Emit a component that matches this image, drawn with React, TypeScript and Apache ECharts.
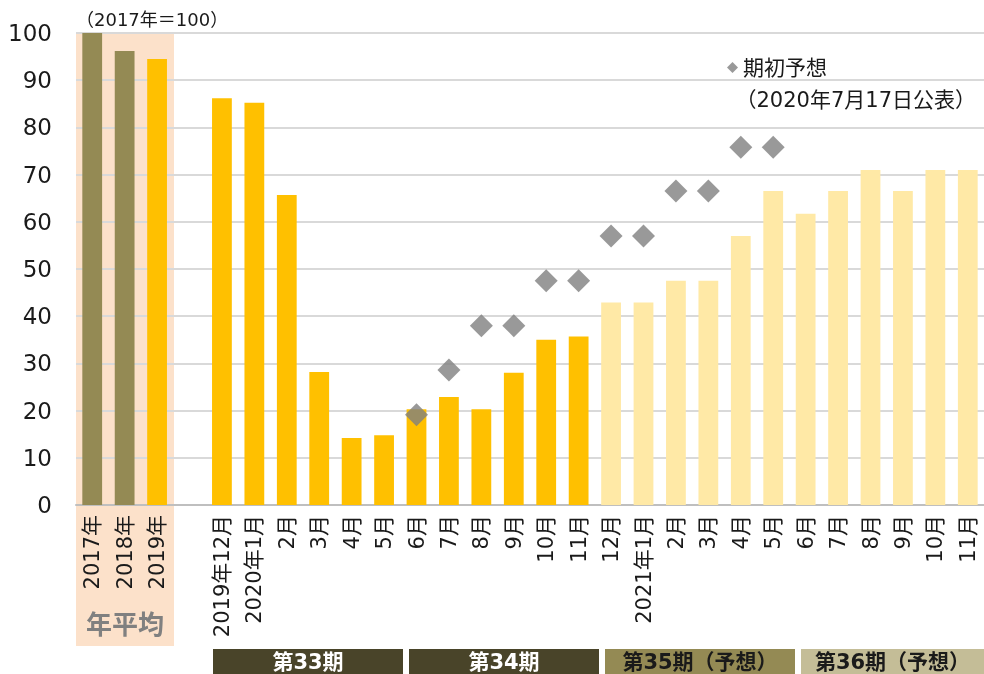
import React, { useEffect, useRef } from "react";
import * as echarts from "echarts";

const categories = [
  "2017年", "2018年", "2019年", "",
  "2019年12月", "2020年1月", "2月", "3月", "4月", "5月",
  "6月", "7月", "8月", "9月", "10月", "11月",
  "12月", "2021年1月", "2月", "3月", "4月", "5月",
  "6月", "7月", "8月", "9月", "10月", "11月",
];
const annualValues = [100, 96.2, 94.5];
const annualColors = ["#948A54", "#948A54", "#FFC000"];
const monthlyActual = [86.2, 85.2, 65.7, 28.2, 14.2, 14.8, 20.3, 22.9, 20.3, 28.0, 35.0, 35.7];
const monthlyForecast = [42.9, 42.9, 47.5, 47.5, 57.0, 66.5, 61.7, 66.5, 71.0, 66.5, 71.0, 71.0];
// 期初予想: from 2020年6月 to 2021年5月
const initialForecast = [19.1, 28.6, 38.0, 38.0, 47.5, 47.5, 57.0, 57.0, 66.5, 66.5, 75.8, 75.8];
const initialForecastStart = 10;
const yTicks = { min: 0, max: 100, interval: 10 };

const periods = [
  { label: "第33期", fill: "#494429", text: "#FFFFFF", x: 213, w: 190 },
  { label: "第34期", fill: "#494429", text: "#FFFFFF", x: 409, w: 190 },
  { label: "第35期（予想）", fill: "#948A54", text: "#1A1A1A", x: 605, w: 190 },
  { label: "第36期（予想）", fill: "#C4BD97", text: "#1A1A1A", x: 801, w: 183 },
];

const FONT = '"DejaVu Sans", "Noto Sans CJK JP", sans-serif';

export default function App() {
  const ref = useRef<HTMLDivElement>(null);
  useEffect(() => {
    if (!ref.current) return;
    const chart = echarts.init(ref.current, null, { renderer: "svg" });

    const barData: any[] = [];
    annualValues.forEach((v, i) => barData.push({ value: v, itemStyle: { color: annualColors[i] } }));
    barData.push("-");
    monthlyActual.forEach((v) => barData.push({ value: v, itemStyle: { color: "#FFC000" } }));
    monthlyForecast.forEach((v) => barData.push({ value: v, itemStyle: { color: "#FFE9A6" } }));

    const scatterData: any[] = categories.map(() => "-");
    initialForecast.forEach((v, i) => (scatterData[initialForecastStart + i] = v));

    const graphics: any[] = [
      {
        type: "rect",
        z: -100,
        shape: { x: 76, y: 33, width: 98, height: 613 },
        style: { fill: "#FCE1CA" },
        silent: true,
      },
      {
        type: "text",
        x: 125,
        y: 625,
        style: {
          text: "年平均",
          fill: "#808080",
          font: `bold 26px ${FONT}`,
          align: "center",
          verticalAlign: "middle",
        },
      },
      {
        type: "text",
        x: 76,
        y: 19,
        style: {
          text: "（2017年＝100）",
          fill: "#1A1A1A",
          font: `18px ${FONT}`,
          align: "left",
          verticalAlign: "middle",
        },
      },
      {
        type: "text",
        x: 976,
        y: 100,
        style: {
          text: "（2020年7月17日公表）",
          fill: "#1A1A1A",
          font: `21px ${FONT}`,
          align: "right",
          verticalAlign: "middle",
        },
      },
    ];
    periods.forEach((p) => {
      graphics.push({
        type: "rect",
        shape: { x: p.x, y: 649, width: p.w, height: 25 },
        style: { fill: p.fill },
      });
      graphics.push({
        type: "text",
        x: p.x + p.w / 2,
        y: 662,
        style: {
          text: p.label,
          fill: p.text,
          font: `bold 21px ${FONT}`,
          align: "center",
          verticalAlign: "middle",
        },
      });
    });

    chart.setOption({
      animation: false,
      textStyle: { fontFamily: FONT },
      grid: { left: 76, right: -2, top: 33, bottom: 169, containLabel: false },
      legend: {
        data: ["期初予想"],
        left: 722,
        top: 52,
        icon: "diamond",
        itemWidth: 11,
        itemHeight: 11,
        itemGap: 4,
        textStyle: { fontSize: 21, color: "#1A1A1A", fontFamily: FONT },
      },
      xAxis: {
        type: "category",
        data: categories,
        axisLine: { lineStyle: { color: "#BFBFBF", width: 2 } },
        axisTick: { show: false },
        axisLabel: {
          interval: 0,
          rotate: 90,
          margin: 10,
          fontSize: 21,
          color: "#1A1A1A",
          fontFamily: FONT,
        },
      },
      yAxis: {
        type: "value",
        min: yTicks.min,
        max: yTicks.max,
        interval: yTicks.interval,
        axisLine: { show: false },
        axisTick: { show: false },
        splitLine: { lineStyle: { color: "#D9D9D9", width: 2 } },
        axisLabel: { fontSize: 23, color: "#1A1A1A", margin: 24, fontFamily: FONT },
      },
      series: [
        {
          name: "指数",
          type: "bar",
          data: barData,
          barWidth: "61%",
        },
        {
          name: "期初予想",
          type: "scatter",
          data: scatterData,
          symbol: "diamond",
          symbolSize: 23,
          itemStyle: { color: "#7F7F7F" },
          z: 5,
        },
      ],
      graphic: graphics,
    });
    return () => chart.dispose();
  }, []);
  return (
    <div
      ref={ref}
      style={{ position: "fixed", left: 0, top: 0, width: 984, height: 674 }}
    />
  );
}
